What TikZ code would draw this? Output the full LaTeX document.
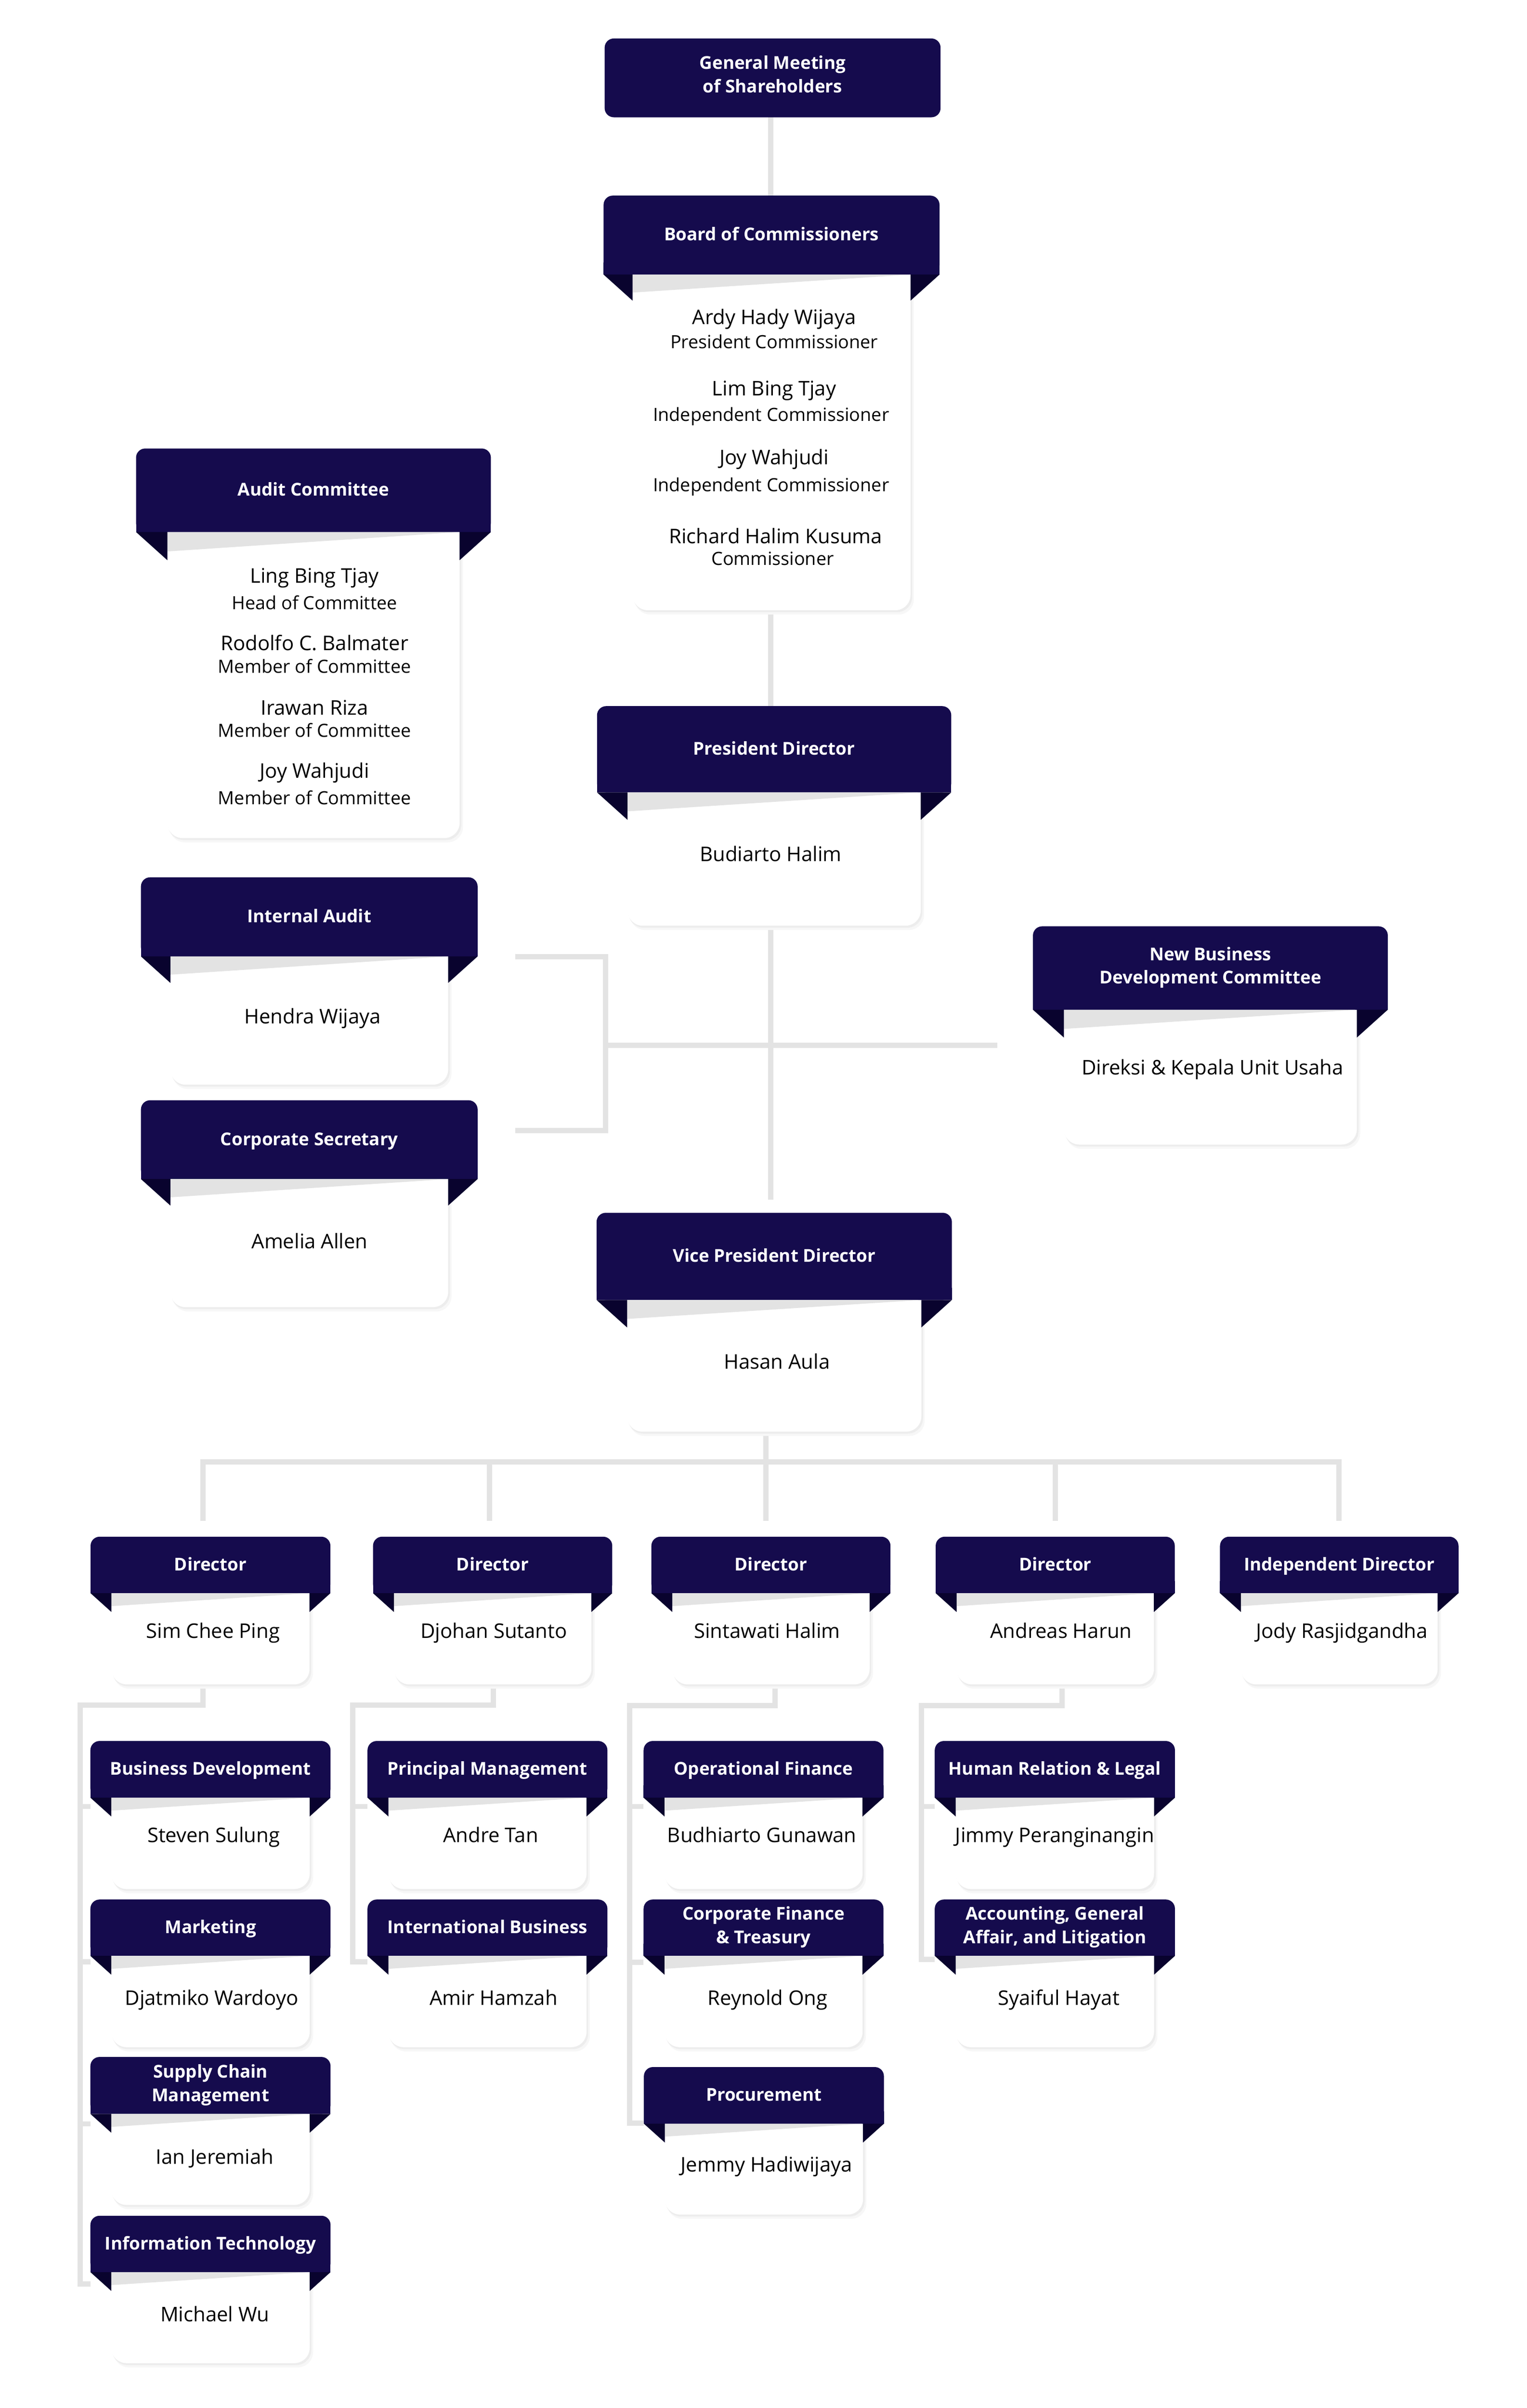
\documentclass[tikz,border=0pt]{standalone}
\usepackage{fontspec}
\setmainfont{Open Sans}
\usepackage{tikz}
\definecolor{navy}{RGB}{21,11,77}
\definecolor{fold}{RGB}{9,3,46}
\definecolor{wedge}{RGB}{227,227,227}
\definecolor{linegray}{RGB}{227,227,227}
\tikzset{
	link/.style={draw=linegray, line width=3.4pt, line join=miter},
	headtext/.style={text=white, font=\bfseries\fontsize{11.6}{15.4}\selectfont, align=center, inner sep=0pt, execute at begin node=\strut, execute at end node=\strut},
	who/.style={anchor=base, inner sep=0pt, font=\fontsize{13.2}{15}\selectfont},
	role/.style={anchor=base, inner sep=0pt, font=\fontsize{11.9}{14}\selectfont},
	gmsbox/.style={fill=navy, rounded corners=6pt, minimum width=220pt, minimum height=51.6pt, inner sep=0pt}
}
% name, x left, x right, y top, y header bottom, y card bottom, inset, title
\newcommand{\orgbox}[8]{
	\fill[black!3, rounded corners=10pt] ({#2+#7+1.5},{#4+12}) rectangle ({#3-#7+2.2},{#6+2.8});
	\fill[black!7, rounded corners=10pt] ({#2+#7+0.6},{#4+12}) rectangle ({#3-#7+1.1},{#6+1.3});
	\fill[white, rounded corners=10pt] ({#2+#7},{#4+12}) rectangle ({#3-#7},{#6});
	\fill[navy, rounded corners=6pt] (#2,#4) rectangle (#3,#5);
	\fill[navy] (#2,{#5-8}) rectangle (#3,#5);
	\fill[wedge] ({#2+#7},#5) -- ({#3-#7},#5) -- ({#2+#7},{#5+0.62*#7}) -- cycle;
	\fill[fold] (#2,#5) -- ({#2+#7},#5) -- ({#2+#7},{#5+0.9*#7}) -- cycle;
	\fill[fold] (#3,#5) -- ({#3-#7},#5) -- ({#3-#7},{#5+0.9*#7}) -- cycle;
	\node[headtext] (#1) at ({(#2+#3)/2},{(#4+#5)/2+0.6}) {#8};
}

\begin{document}
\begin{tikzpicture}[x=1pt, y=-1pt]
			%%%%% START %%%%%
			\useasboundingbox[fill=white] (0,0) rectangle (1000,1576.9);
			
			% wiring points
			\coordinate (gms-s) at (504.7,76.6);
			\coordinate (boc-n) at (504.7,128.1);
			\coordinate (boc-s) at (504.7,399.6);
			\coordinate (pd-n) at (504.7,462.4);
			\coordinate (pd-s) at (504.7,606.2);
			\coordinate (vp-gap) at (504.7,785.5);
			\coordinate (ia-end) at (337.4,626.5);
			\coordinate (br-top) at (396.6,626.5);
			\coordinate (br-bot) at (396.6,740.4);
			\coordinate (cs-end) at (337.4,740.4);
			\coordinate (br-mid) at (396.6,684.6);
			\coordinate (nbd-end) at (653.3,684.6);
			\coordinate (vp-s) at (501.7,937.5);
			\coordinate (bus-l) at (133,957.3);
			\coordinate (bus-r) at (877,957.3);
			\coordinate (d1-n) at (133,996.1);
			\coordinate (d2-n) at (320.5,996.1);
			\coordinate (d2-t) at (320.5,957.3);
			\coordinate (d3-n) at (501.7,996.1);
			\coordinate (d4-n) at (691.1,996.1);
			\coordinate (d4-t) at (691.1,957.3);
			\coordinate (id-n) at (877,996.1);
			
			\coordinate (d1-s) at (133,1103);
			\coordinate (d1-k) at (133,1116.7);
			\coordinate (c1-k) at (52.5,1116.7);
			\coordinate (c1-a) at (52.5,1183);
			\coordinate (c1-b) at (52.5,1284.7);
			\coordinate (c1-c) at (52.5,1390.8);
			\coordinate (c1-d) at (52.5,1495.6);
			\coordinate (bd-w) at (59.2,1183);
			\coordinate (mk-w) at (59.2,1284.7);
			\coordinate (scm-w) at (59.2,1390.8);
			\coordinate (it-w) at (59.2,1495.6);
			
			\coordinate (d2-s) at (323,1103);
			\coordinate (d2-k) at (323,1116.7);
			\coordinate (c2-k) at (231,1116.7);
			\coordinate (c2-a) at (231,1183);
			\coordinate (c2-b) at (231,1284.7);
			\coordinate (pm-w) at (240.7,1183);
			\coordinate (ib-w) at (240.7,1284.7);
			
			\coordinate (d3-s) at (507.6,1103);
			\coordinate (d3-k) at (507.6,1117);
			\coordinate (c3-k) at (412.4,1117);
			\coordinate (c3-a) at (412.4,1183);
			\coordinate (c3-b) at (412.4,1284.9);
			\coordinate (c3-c) at (412.4,1390.4);
			\coordinate (of-w) at (421.5,1183);
			\coordinate (cft-w) at (421.5,1284.9);
			\coordinate (pr-w) at (421.7,1390.4);
			
			\coordinate (d4-s) at (695.6,1103);
			\coordinate (d4-k) at (695.6,1117);
			\coordinate (c4-k) at (603.5,1117);
			\coordinate (c4-a) at (603.5,1183);
			\coordinate (c4-b) at (603.5,1283);
			\coordinate (hrl-w) at (612.2,1183);
			\coordinate (agl-w) at (612.2,1283);
			
			% connectors
			\draw[link] (gms-s) -- (boc-n);
			\draw[link] (boc-s) -- (pd-n);
			\draw[link] (pd-s) -- (vp-gap);
			\draw[link] (ia-end) -- (br-top) -- (br-bot) -- (cs-end);
			\draw[link] (br-mid) -- (nbd-end);
			\draw[link] (vp-s) -- (d3-n);
			\draw[link] (d1-n) -- (bus-l) -- (bus-r) -- (id-n);
			\draw[link] (d2-t) -- (d2-n);
			\draw[link] (d4-t) -- (d4-n);
			
			\draw[link] (d1-s) -- (d1-k) -- (c1-k) -- (c1-d) -- (it-w);
			\draw[link] (c1-a) -- (bd-w);
			\draw[link] (c1-b) -- (mk-w);
			\draw[link] (c1-c) -- (scm-w);
			\draw[link] (d2-s) -- (d2-k) -- (c2-k) -- (c2-b) -- (ib-w);
			\draw[link] (c2-a) -- (pm-w);
			\draw[link] (d3-s) -- (d3-k) -- (c3-k) -- (c3-c) -- (pr-w);
			\draw[link] (c3-a) -- (of-w);
			\draw[link] (c3-b) -- (cft-w);
			\draw[link] (d4-s) -- (d4-k) -- (c4-k) -- (c4-b) -- (agl-w);
			\draw[link] (c4-a) -- (hrl-w);
			
			% top
			\node[gmsbox, headtext] (gms) at (506,51) {General Meeting\\of Shareholders};
			
			\orgbox{boc}{395.3}{615.3}{128.1}{179.8}{399.6}{19}{Board of Commissioners}
			\node[who] (ardy) at (507,212.4) {Ardy Hady Wijaya};
			\node[role] (ardy-r) at (507,228.2) {President Commissioner};
			\node[who] (lim) at (507,259.1) {Lim Bing Tjay};
			\node[role] (lim-r) at (505,275.9) {Independent Commissioner};
			\node[who] (joy) at (507,304.3) {Joy Wahjudi};
			\node[role] (joy-r) at (505,321.8) {Independent Commissioner};
			\node[who] (richard) at (508,355.8) {Richard Halim Kusuma};
			\node[role] (richard-r) at (506,370.2) {Commissioner};
			
			\orgbox{ac}{89.1}{321.5}{293.7}{348.4}{548.8}{20.5}{Audit Committee}
			\node[who] (ling) at (206,381.7) {Ling Bing Tjay};
			\node[role] (ling-r) at (206,399) {Head of Committee};
			\node[who] (rodolfo) at (206,425.8) {Rodolfo C. Balmater};
			\node[role] (rodolfo-r) at (206,440.6) {Member of Committee};
			\node[who] (irawan) at (206,468.3) {Irawan Riza};
			\node[role] (irawan-r) at (206,482.6) {Member of Committee};
			\node[who] (joy2) at (206,509.4) {Joy Wahjudi};
			\node[role] (joy2-r) at (206,526.9) {Member of Committee};
			
			% directors
			\orgbox{pd}{391}{623}{462.4}{518.9}{606.2}{20}{President Director}
			\node[who] (budiarto) at (504.8,563.9) {Budiarto Halim};
			
			\orgbox{ia}{92.3}{312.8}{574.5}{626.3}{710.3}{19.3}{Internal Audit}
			\node[who] (hendra) at (204.8,670.3) {Hendra Wijaya};
			
			\orgbox{cs}{92.3}{312.8}{720.5}{772.1}{856}{19.3}{Corporate Secretary}
			\node[who] (amelia) at (202.8,817.6) {Amelia Allen};
			
			\orgbox{nbd}{676.5}{908.9}{606.6}{661.2}{749.5}{20.3}{New Business\\Development Committee}
			\node[who] (direksi) at (794.1,703.7) {Direksi \& Kepala Unit Usaha};
			
			\orgbox{vp}{390.7}{623.4}{794.2}{851.3}{937.5}{20}{Vice President Director}
			\node[who] (hasan) at (508.8,896.3) {Hasan Aula};
			
			\orgbox{d1}{59.3}{216.4}{1006.3}{1043.3}{1103}{13.7}{Director}
			\node[who] (sim) at (139.5,1072.7) {Sim Chee Ping};
			\orgbox{d2}{244.3}{401}{1006.3}{1043.3}{1103}{13.7}{Director}
			\node[who] (djohan) at (323.4,1072.7) {Djohan Sutanto};
			\orgbox{d3}{426.6}{583.2}{1006.3}{1043.3}{1103}{13.7}{Director}
			\node[who] (sintawati) at (502.4,1072.7) {Sintawati Halim};
			\orgbox{d4}{612.8}{769.4}{1006.3}{1043.3}{1103}{13.7}{Director}
			\node[who] (andreas) at (694.9,1072.7) {Andreas Harun};
			\orgbox{id}{799}{955.2}{1006.3}{1043.3}{1103}{13.7}{Independent Director}
			\node[who] (jody) at (878.8,1072.7) {Jody Rasjidgandha};
			
			% units
			\orgbox{bd}{59.2}{216.5}{1140.1}{1177.2}{1237}{13.7}{Business Development}
			\node[who] (steven) at (139.9,1206.6) {Steven Sulung};
			\orgbox{mk}{59.2}{216.5}{1243.9}{1280.8}{1340.6}{13.7}{Marketing}
			\node[who] (djatmiko) at (138.6,1313) {Djatmiko Wardoyo};
			\orgbox{scm}{59.2}{216.5}{1347}{1384.3}{1443.9}{13.7}{Supply Chain\\Management}
			\node[who] (ian) at (140.7,1417) {Ian Jeremiah};
			\orgbox{it}{59.2}{216.5}{1451}{1487.9}{1547.5}{13.7}{Information Technology}
			\node[who] (michael) at (140.7,1520.3) {Michael Wu};
			
			\orgbox{pm}{240.7}{397.8}{1140.1}{1177.2}{1237}{13.7}{Principal Management}
			\node[who] (andre) at (321.4,1206.6) {Andre Tan};
			\orgbox{ib}{240.7}{397.8}{1243.9}{1280.8}{1340.6}{13.7}{International Business}
			\node[who] (amir) at (323.3,1313) {Amir Hamzah};
			
			\orgbox{of}{421.5}{578.6}{1140.1}{1177.2}{1237}{13.7}{Operational Finance}
			\node[who] (budhiarto) at (499,1206.6) {Budhiarto Gunawan};
			\orgbox{cft}{421.5}{578.6}{1243.9}{1280.8}{1340.6}{13.7}{Corporate Finance\\\& Treasury}
			\node[who] (reynold) at (502.7,1313) {Reynold Ong};
			\orgbox{pr}{421.7}{578.9}{1353.6}{1390.7}{1450.2}{13.7}{Procurement}
			\node[who] (jemmy) at (502,1422.2) {Jemmy Hadiwijaya};
			
			\orgbox{hrl}{612.2}{769.5}{1140.1}{1177.2}{1237}{13.7}{Human Relation \& Legal}
			\node[who] (jimmy) at (690.8,1206.6) {Jimmy Peranginangin};
			\orgbox{agl}{612.2}{769.5}{1243.9}{1280.8}{1340.6}{13.7}{Accounting, General\\Affair, and Litigation}
			\node[who] (syaiful) at (693.4,1313) {Syaiful Hayat};
			
			%%%%% END %%%%%
\end{tikzpicture}
\end{document}
